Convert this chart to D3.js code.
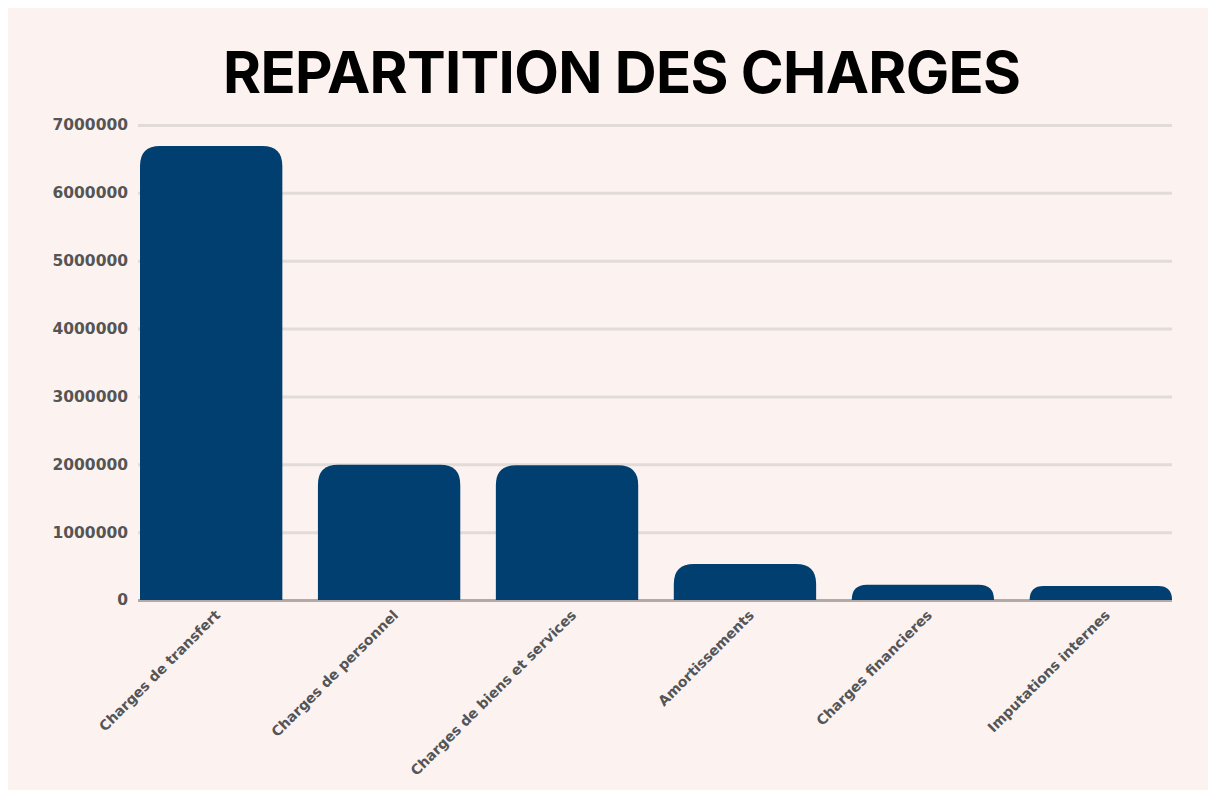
<!DOCTYPE html>
<head>
<meta charset="utf-8">
<title>Repartition des charges</title>
<script src="https://cdnjs.cloudflare.com/ajax/libs/d3/7.8.5/d3.min.js"></script>
<style>
  body { margin: 0; background: #fff; }
</style>
</head>
<body>
<div id="container"></div>
<script>

// data
const categories = ["Charges de transfert", "Charges de personnel", "Charges de biens et services",
                    "Amortissements", "Charges financieres", "Imputations internes"]
const values = [6690000, 1995000, 1985000, 530000, 225000, 205000]
const yTicks = [0, 1000000, 2000000, 3000000, 4000000, 5000000, 6000000, 7000000]

function chart() {
  const width = 1210, height = 793
  const margin = {top: 125, right: 38, bottom: 193, left: 140}

  const svg = d3.select("div#container").append("svg")
      .attr("width", width).attr("height", height)

  // panel
  svg.append("rect").attr("x", 8).attr("y", 8)
     .attr("width", width - 10).attr("height", height - 11)
     .attr("fill", "#fcf3f1")

  svg.append("text")
     .attr("x", 622).attr("y", 93)
     .attr("text-anchor", "middle")
     .attr("font-family", "Inter, sans-serif").attr("font-weight", 700)
     .attr("font-size", 58)
     .attr("textLength", 798).attr("lengthAdjust", "spacing")
     .attr("fill", "#000")
     .text("REPARTITION DES CHARGES")

  const xScale = d3.scaleBand().domain(categories)
     .range([margin.left, width - margin.right])
     .paddingInner(0.2).paddingOuter(0)
  const yScale = d3.scaleLinear().domain([0, 7000000])
     .range([height - margin.bottom, margin.top])

  // grid + y labels
  const yAxis = g => g
    .attr("transform", `translate(${margin.left - 2},0)`)
    .call(d3.axisRight(yScale).tickValues(yTicks).tickFormat(d3.format("d"))
        .tickSize(width - margin.left - margin.right + 2))
    .call(g => g.select(".domain").remove())
    .call(g => g.selectAll(".tick line").attr("stroke", "#e2dcd9").attr("stroke-width", 3))
    .call(g => g.selectAll(".tick:first-of-type line").attr("stroke", "#b2aaa8"))
    .call(g => g.selectAll(".tick text")
        .attr("x", -10).attr("text-anchor", "end")
        .attr("font-family", "'DejaVu Sans', sans-serif").attr("font-weight", "bold")
        .attr("font-size", 15.5).attr("fill", "#555"))
  svg.append("g").call(yAxis)

  // bars with rounded tops
  const barPath = (x, y, w, h) => {
    const r = Math.min(20, h, w / 2)
    return `M${x},${y + h} V${y + r} Q${x},${y} ${x + r},${y} H${x + w - r} Q${x + w},${y} ${x + w},${y + r} V${y + h} Z`
  }
  svg.append("g").selectAll("path")
    .data(values)
    .join("path")
    .attr("fill", "#023f71")
    .attr("d", (d, i) => {
      const x = xScale(categories[i]), y = yScale(d)
      return barPath(x, y, xScale.bandwidth(), yScale(0) - y)
    })

  // x labels
  svg.append("g").selectAll("text")
    .data(categories)
    .join("text")
    .attr("transform", d => `translate(${xScale(d) + xScale.bandwidth() / 2 + 10},${yScale(0) + 16}) rotate(-45)`)
    .attr("text-anchor", "end")
    .attr("font-family", "'DejaVu Sans', sans-serif").attr("font-weight", "bold")
    .attr("font-size", 14).attr("fill", "#555")
    .text(d => d)

  return svg.node()
}

chart()

</script>
</body>
